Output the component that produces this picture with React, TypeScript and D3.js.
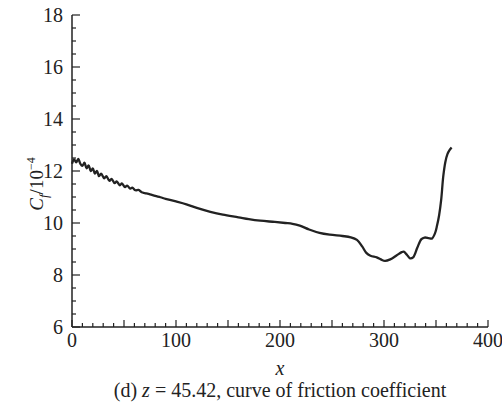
import React from "react";
import * as d3 from "d3";

const xs = [0, 2, 4, 6, 8, 10, 12, 14, 16, 18, 20, 22, 24, 26, 28, 31, 33, 36, 38, 41, 43, 46, 48, 51, 53, 56, 58, 61, 64, 67, 70, 75, 80, 85, 90, 100, 110, 120, 133, 145, 160, 170, 181, 195, 205, 212, 219, 228, 238, 248, 260, 268, 274, 279, 283, 287, 293, 297, 301, 306, 312, 317, 319, 322, 325, 328, 332, 336, 339, 343, 346, 349, 351, 353, 355, 357, 359, 361, 363, 365];
const cf = [12.28, 12.45, 12.33, 12.47, 12.28, 12.20, 12.32, 12.10, 12.22, 12.00, 12.10, 11.90, 12.00, 11.80, 11.90, 11.72, 11.80, 11.62, 11.70, 11.53, 11.60, 11.45, 11.52, 11.38, 11.44, 11.32, 11.36, 11.26, 11.27, 11.18, 11.15, 11.10, 11.04, 10.99, 10.93, 10.83, 10.72, 10.58, 10.43, 10.32, 10.22, 10.15, 10.09, 10.04, 10.0, 9.97, 9.9, 9.75, 9.62, 9.55, 9.50, 9.45, 9.35, 9.1, 8.85, 8.74, 8.68, 8.6, 8.54, 8.6, 8.75, 8.88, 8.9, 8.78, 8.64, 8.68, 9.05, 9.38, 9.44, 9.42, 9.4, 9.6, 9.9, 10.3, 10.9, 11.8, 12.35, 12.65, 12.8, 12.9];

const xTickLabels = [0, 100, 200, 300, 400];
const yTickLabels = [6, 8, 10, 12, 14, 16, 18];

const W = 502, H = 413;
const x = d3.scaleLinear().domain([0, 400]).range([72, 488]);
const y = d3.scaleLinear().domain([6, 18]).range([327, 15]);

export default function App() {
  const data = xs.map((v, i) => [v, cf[i]] as [number, number]);
  const line = d3.line<[number, number]>().x(d => x(d[0])).y(d => y(d[1])).curve(d3.curveCatmullRom.alpha(0.5));
  const xMinor = d3.range(0, 401, 10);
  const yMinor = d3.range(6, 18.01, 0.5);
  const font = "'Liberation Serif', 'Times New Roman', serif";
  const col = "#222";
  return (
    <svg width={W} height={H} style={{ position: "absolute", left: 0, top: 0, background: "#fff" }} fontFamily={font}>
      <rect width={W} height={H} fill="#fff" />
      <line x1={72} x2={72} y1={15} y2={327} stroke={col} strokeWidth={1.5} />
      <line x1={72} x2={488} y1={327} y2={327} stroke={col} strokeWidth={1.5} />
      {xMinor.map(t => {
        const major = t % 50 === 0;
        return <line key={"xt" + t} x1={x(t)} x2={x(t)} y1={327} y2={327 - (major ? 7 : 4)} stroke={col} strokeWidth={1.2} />;
      })}
      {yMinor.map(t => {
        const major = Math.abs(t % 2) < 1e-6;
        return <line key={"yt" + t} x1={72} x2={72 + (major ? 8 : 4)} y1={y(t)} y2={y(t)} stroke={col} strokeWidth={1.2} />;
      })}
      {xTickLabels.map(t => (
        <text key={"xl" + t} x={x(t)} y={347} textAnchor="middle" fontSize={20} fill={col}>{t}</text>
      ))}
      {yTickLabels.map(t => (
        <text key={"yl" + t} x={63} y={y(t) + 7} textAnchor="end" fontSize={20} fill={col}>{t}</text>
      ))}
      <text x={280} y={375} textAnchor="middle" fontSize={20} fontStyle="italic" fill={col}>x</text>
      <text transform="translate(43,184) rotate(-90)" textAnchor="middle" fontSize={19} fill={col}>
        <tspan fontStyle="italic">C</tspan>
        <tspan fontStyle="italic" fontSize={13} dy={5}>f</tspan>
        <tspan dy={-5}>/10</tspan>
        <tspan fontSize={12} dy={-8}>−4</tspan>
      </text>
      <text x={280} y={397} textAnchor="middle" fontSize={20} fill={col}>
        <tspan>(d) </tspan>
        <tspan fontStyle="italic">z</tspan>
        <tspan> = 45.42, curve of friction coefficient</tspan>
      </text>
      <path d={line(data) || ""} fill="none" stroke={col} strokeWidth={2.3} strokeLinejoin="round" />
    </svg>
  );
}
